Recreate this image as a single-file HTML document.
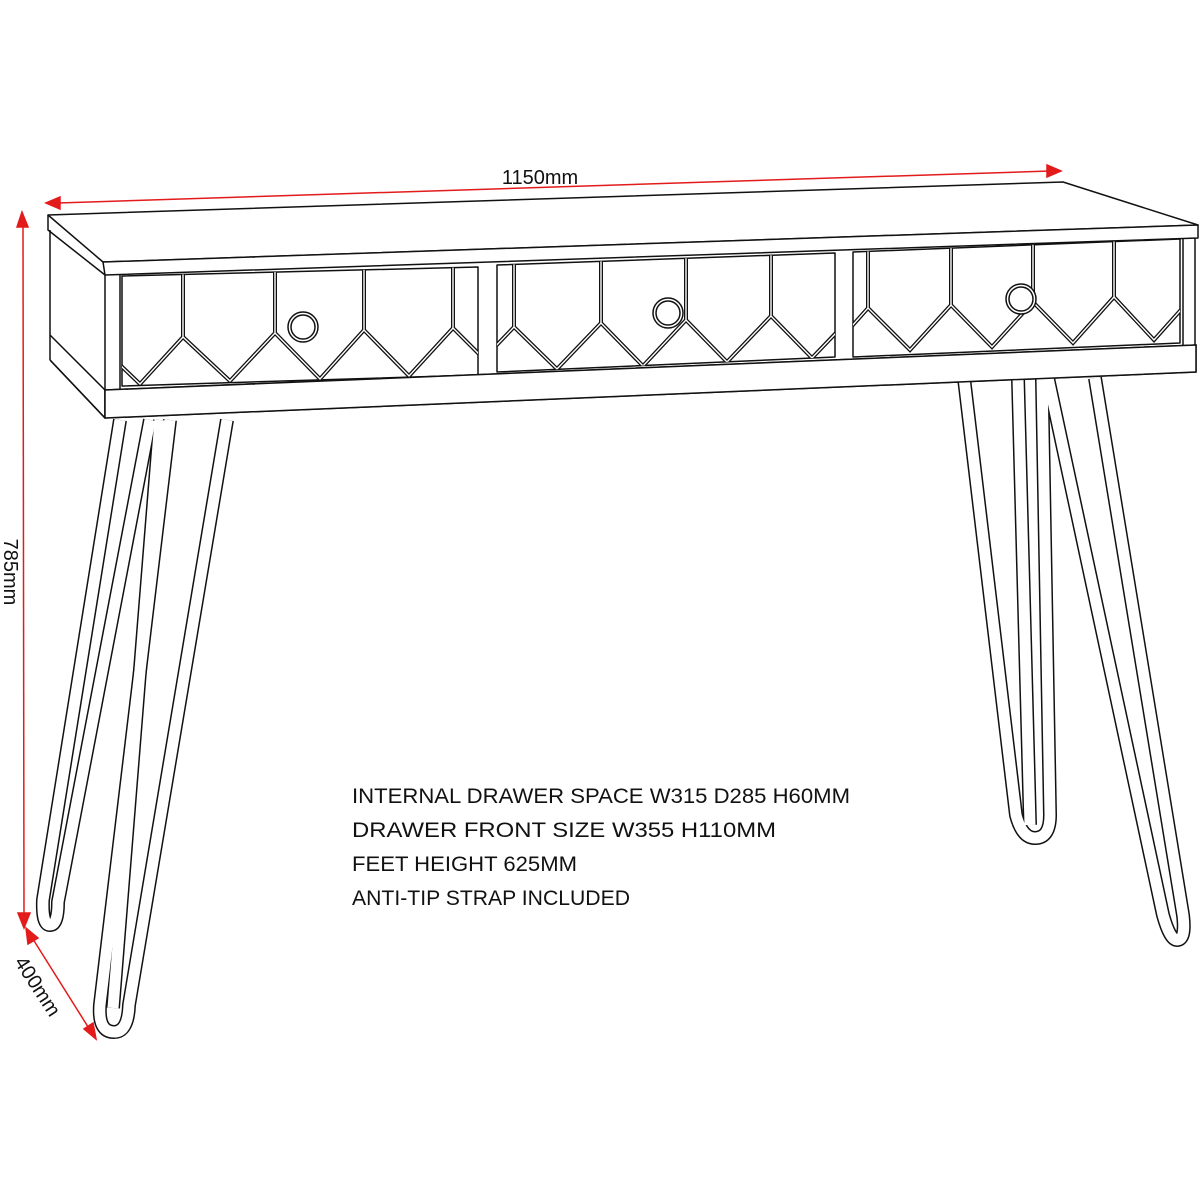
<!DOCTYPE html>
<html><head><meta charset="utf-8"><style>html,body{margin:0;padding:0;background:#fff}svg{display:block}</style></head><body>
<svg width="1200" height="1200" viewBox="0 0 1200 1200" xmlns="http://www.w3.org/2000/svg">
<defs>
<clipPath id="d1"><polygon points="122,276 478,267 478,375 122,386"/></clipPath>
<clipPath id="d2"><polygon points="497,265 835,253 835,357 497,372"/></clipPath>
<clipPath id="d3"><polygon points="853,252 1180,239 1180,343 853,357"/></clipPath>
</defs>
<g fill="none" stroke="#111" stroke-width="1.5" stroke-linejoin="round">
<!-- top -->
<polygon points="48,215 1063,182 1198,225 103,262" fill="#fff"/>
<polygon points="103,262 1198,225 1198,238 105,275" fill="#fff"/>
<polyline points="48,215 48,230 105,275"/>
<!-- carcass -->
<line x1="50" y1="230" x2="50" y2="360"/>
<line x1="50" y1="335" x2="105" y2="390"/>
<line x1="50" y1="360" x2="105" y2="418"/>
<line x1="105" y1="275" x2="105" y2="418"/>
<line x1="120" y1="275" x2="120" y2="390"/>
<line x1="1195" y1="238" x2="1195" y2="372"/>
<line x1="1183" y1="238" x2="1183" y2="346"/>
<polygon points="105,390 1196,345 1196,372 105,418" fill="#fff"/>
<!-- drawers -->
<polygon points="122,276 478,267 478,375 122,386"/>
<polygon points="497,265 835,253 835,357 497,372"/>
<polygon points="853,252 1180,239 1180,343 853,357"/>
</g>
<g fill="none" stroke-linejoin="miter">
<g clip-path="url(#d1)">
<path d="M95,341 L140,384 L183,337 L230,381 L275,333 L320,379 L364,330 L409,376 L453,328 L498,373 M183,250 V337 M275,250 V333 M364,250 V330 M453,250 V328" stroke="#111" stroke-width="4"/>
<path d="M95,341 L140,384 L183,337 L230,381 L275,333 L320,379 L364,330 L409,376 L453,328 L498,373 M183,250 V337 M275,250 V333 M364,250 V330 M453,250 V328" stroke="#fff" stroke-width="1.4"/>
</g>
<g clip-path="url(#d2)">
<path d="M470,373 L514,327 L557,369 L601,323 L643,366 L686,320 L727,362 L771,316 L812,358 L856,312 M514,240 V327 M601,240 V323 M686,240 V320 M771,240 V316" stroke="#111" stroke-width="4"/>
<path d="M470,373 L514,327 L557,369 L601,323 L643,366 L686,320 L727,362 L771,316 L812,358 L856,312 M514,240 V327 M601,240 V323 M686,240 V320 M771,240 V316" stroke="#fff" stroke-width="1.4"/>
</g>
<g clip-path="url(#d3)">
<path d="M827,354 L868,308 L910,350 L951,305 L992,347 L1033,302 L1073,343 L1114,297 L1154,340 L1195,294 M868,230 V308 M951,230 V305 M1033,230 V302 M1114,230 V297" stroke="#111" stroke-width="4"/>
<path d="M827,354 L868,308 L910,350 L951,305 L992,347 L1033,302 L1073,343 L1114,297 L1154,340 L1195,294 M868,230 V308 M951,230 V305 M1033,230 V302 M1114,230 V297" stroke="#fff" stroke-width="1.4"/>
</g>
</g>
<g fill="#fff" stroke="#111" stroke-width="1.5">
<circle cx="303" cy="327" r="15"/><circle cx="303" cy="327" r="12" fill="none"/>
<circle cx="668" cy="313" r="15"/><circle cx="668" cy="313" r="12" fill="none"/>
<circle cx="1021" cy="299" r="15"/><circle cx="1021" cy="299" r="12" fill="none"/>
</g>
<!-- legs -->
<g fill="none" stroke-linecap="butt" stroke-linejoin="round">
<g stroke="#111" stroke-width="14">
<path d="M120,420 L43,900 Q42,925 50,925 Q58,925 58,902 L150,420"/>
<path d="M170,420 L100,1005 Q98,1032 114,1032 Q128,1032 129,1005 L227,420"/>
<path d="M160,420 L113,1008"/>
<path d="M964,378 L1016,815 Q1022,838 1035,838 Q1050,838 1050,815 L1042,378"/>
<path d="M1018,378 L1030,825"/>
<path d="M1048,378 L1163,915 Q1170,940 1177,940 Q1186,940 1183,915 L1095,378"/>
</g>
<g stroke="#fff" stroke-width="11">
<path d="M120,420 L43,900 Q42,925 50,925 Q58,925 58,902 L150,420"/>
<path d="M170,420 L100,1005 Q98,1032 114,1032 Q128,1032 129,1005 L227,420"/>
<path d="M160,420 L113,1008"/>
<path d="M964,378 L1016,815 Q1022,838 1035,838 Q1050,838 1050,815 L1042,378"/>
<path d="M1018,378 L1030,825"/>
<path d="M1048,378 L1163,915 Q1170,940 1177,940 Q1186,940 1183,915 L1095,378"/>
</g>
</g>
<!-- cover leg tops under carcass -->
<polygon points="105,390 1196,345 1196,372 105,418" fill="#fff" stroke="#111" stroke-width="1.5"/>
<line x1="50" y1="360" x2="105" y2="418" stroke="#111" stroke-width="1.5"/>
<!-- dimensions -->
<g stroke="#e31b1b" stroke-width="1.5" fill="#e31b1b">
<line x1="58" y1="203" x2="1050" y2="171"/>
<polygon points="46,203 60,197 60,209"/>
<polygon points="1061,171 1047,165 1047,177"/>
<line x1="23" y1="225" x2="24" y2="918"/>
<polygon points="22,212 17,227 28,227"/>
<polygon points="24,928 18,913 30,913"/>
<line x1="31" y1="936" x2="90" y2="1030"/>
<polygon points="26,928 28,944 38,938"/>
<polygon points="96,1039 84,1029 93,1023"/>
</g>
<g font-family="Liberation Sans, Arial, sans-serif" fill="#111">
<text x="540" y="184" font-size="20" text-anchor="middle">1150mm</text>
<text transform="translate(4,572) rotate(90)" font-size="20" text-anchor="middle">785mm</text>
<text transform="translate(32,990) rotate(57)" font-size="20" text-anchor="middle">400mm</text>
</g>
<g font-family="Liberation Sans, Arial, sans-serif" fill="#111" font-size="21">
<text x="352" y="803" textLength="498" lengthAdjust="spacingAndGlyphs">INTERNAL DRAWER SPACE W315 D285 H60MM</text>
<text x="352" y="837" textLength="424" lengthAdjust="spacingAndGlyphs">DRAWER FRONT SIZE W355 H110MM</text>
<text x="352" y="871" textLength="225" lengthAdjust="spacingAndGlyphs">FEET HEIGHT 625MM</text>
<text x="352" y="905" textLength="278" lengthAdjust="spacingAndGlyphs">ANTI-TIP STRAP INCLUDED</text>
</g>
</svg>
</body></html>
